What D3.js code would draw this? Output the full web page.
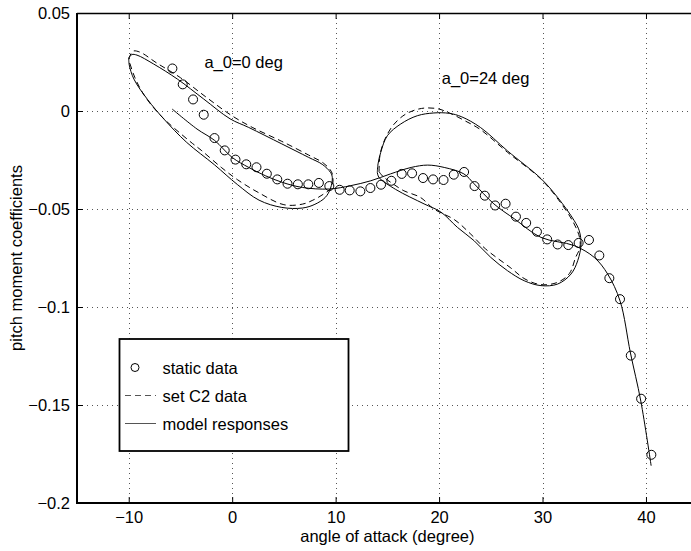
<!DOCTYPE html>
<html>
<head>
<meta charset="utf-8">
<script src="https://cdn.jsdelivr.net/npm/d3@7"></script>
<style>
  html, body { margin: 0; padding: 0; background: #fff; }
  svg { display: block; }
  text { font-family: "Liberation Sans", Arial, Helvetica, sans-serif; fill: #000; }
</style>
</head>
<body>
<svg id="chart" width="691" height="551"></svg>
<script>
// ---------------- data ----------------
const xTicks = [-10, 0, 10, 20, 30, 40];
const yTicks = [0.05, 0, -0.05, -0.1, -0.15, -0.2];
const yTickLabels = ["0.05", "0", "\u22120.05", "\u22120.1", "\u22120.15", "\u22120.2"];
const xTickLabels = ["\u221210", "0", "10", "20", "30", "40"];

// static data (circles)
const staticX = [-5.78,-4.78,-3.78,-2.75,-1.71,-0.72,0.32,1.36,2.35,3.35,4.36,5.35,6.35,7.36,8.38,9.39,10.39,11.36,12.39,13.36,14.39,15.39,16.39,17.39,18.45,19.42,20.43,21.42,22.42,23.43,24.42,25.42,26.43,27.43,28.42,29.46,30.45,31.46,32.49,33.49,34.49,35.49,36.46,37.49,38.53,39.53,40.52];
const staticY = [0.0217,0.0136,0.0059,-0.0019,-0.0138,-0.0201,-0.0248,-0.0272,-0.0287,-0.0320,-0.0349,-0.0371,-0.0374,-0.0374,-0.0367,-0.0383,-0.0402,-0.0405,-0.0410,-0.0393,-0.0376,-0.0356,-0.0321,-0.0318,-0.0342,-0.0349,-0.0352,-0.0325,-0.0311,-0.0383,-0.0432,-0.0482,-0.0473,-0.0539,-0.0571,-0.0616,-0.0655,-0.0681,-0.0684,-0.0673,-0.0658,-0.0737,-0.0853,-0.0960,-0.1248,-0.1468,-0.1754];

// model response along static curve (solid)
const modelStaticX = [-5.8,-3.4,-1.7,0,1.6,3.2,4.84,6.78,9.4,11.45,13.4,15.3,17.3,18.9,20.5,22.4,23.4,25.3,27.3,29.85,33.07,35.0,36.3,37.5,38.5,39.5,40.5];
const modelStaticY = [0.001,-0.0092,-0.015,-0.0237,-0.0288,-0.033,-0.0364,-0.039,-0.0398,-0.0381,-0.0356,-0.0321,-0.0288,-0.0276,-0.0288,-0.0321,-0.0372,-0.0474,-0.0551,-0.0645,-0.0687,-0.0747,-0.0832,-0.097,-0.1235,-0.148,-0.181];

// model response loop, a_0 = 0 deg (solid)
const model0X = [-10.0,-9.7,-9.2,-7.6,-5.3,-2.75,-0.2,1.6,4.8,7.4,8.7,9.5,9.68,9.5,9.0,8.0,6.8,4.8,2.6,0.5,-1.7,-4.4,-6.6,-8.2,-9.5,-9.95,-10.0];
const model0Y = [0.027,0.0288,0.0285,0.024,0.0163,0.0061,-0.004,-0.0084,-0.0168,-0.0237,-0.0272,-0.0313,-0.034,-0.0395,-0.0441,-0.0476,-0.0495,-0.0492,-0.0455,-0.0375,-0.0275,-0.016,-0.0041,0.006,0.0163,0.0235,0.027];

// set C2 data loop, a_0 = 0 deg (dashed)
const c20X = [-10.0,-9.6,-8.9,-7.3,-5.0,-2.5,0,2,4.8,7.4,8.8,9.6,9.75,9.6,8.8,7.8,6.8,5.0,2.5,0.5,-1.0,-3.0,-4.2,-6.9,-8.5,-9.4,-9.9,-10.0];
const c20Y = [0.0265,0.0305,0.030,0.0245,0.017,0.007,-0.0025,-0.0085,-0.0155,-0.0225,-0.0265,-0.031,-0.035,-0.039,-0.0425,-0.0455,-0.0475,-0.0478,-0.0415,-0.035,-0.029,-0.020,-0.015,-0.0024,0.008,0.017,0.0245,0.0265];

// model response loop, a_0 = 24 deg (solid)
const model24X = [14.03,14.1,14.36,15.0,16.3,17.9,19.5,21.0,22.2,24.0,26.6,29.85,31.46,33.07,33.55,33.72,33.4,32.75,31.46,29.85,28.23,26.62,25.0,23.39,21.78,20.16,18.55,15.8,14.19,14.03];
const model24Y = [-0.0313,-0.027,-0.0211,-0.0126,-0.0066,-0.0024,-0.001,-0.0012,-0.003,-0.0084,-0.0203,-0.0345,-0.0441,-0.056,-0.0611,-0.068,-0.0764,-0.0832,-0.0883,-0.0891,-0.0866,-0.0815,-0.0747,-0.0662,-0.0594,-0.0515,-0.0474,-0.040,-0.0339,-0.0313];

// set C2 data loop, a_0 = 24 deg (dashed)
const c224X = [14.2,14.3,14.8,15.6,16.8,18.3,19.8,21.0,22.5,24.0,26.6,29.8,31.5,33.0,33.6,33.6,33.2,32.6,31.46,29.85,28.3,26.94,24.5,23.0,21.5,19.5,18.2,16.6,15.5,14.6,14.2];
const c224Y = [-0.031,-0.022,-0.014,-0.007,-0.0015,0.0013,0.0012,-0.001,-0.005,-0.0095,-0.021,-0.0345,-0.045,-0.057,-0.065,-0.070,-0.0747,-0.0829,-0.0874,-0.0886,-0.0857,-0.0801,-0.0704,-0.0625,-0.0555,-0.050,-0.0441,-0.0407,-0.037,-0.0335,-0.031];

const legendLabels = ["static data", "set C2 data", "model responses"];
const xLabel = "angle of attack (degree)";
const yLabel = "pitch moment coefficients";
const annotations = [
  {text: "a_0=0 deg", x: -2.68, y: 0.0218},
  {text: "a_0=24 deg", x: 20.26, y: 0.0139}
];

// ---------------- drawing ----------------
(function () {
const svg = d3.select("#chart");
const W = 691, H = 551;
const pL = 77, pR = 697.7, pT = 13, pB = 503;
const FONT = 16.5;

svg.append("rect").attr("width", W).attr("height", H).attr("fill", "#fff");

const x = d3.scaleLinear().domain([-15, 45]).range([pL, pR]);
const y = d3.scaleLinear().domain([-0.2, 0.05]).range([pB, pT]);

// grid (dotted)
const grid = svg.append("g").attr("stroke", "#555").attr("stroke-width", 1)
  .attr("stroke-dasharray", "1,4");
grid.selectAll("line.vx").data(xTicks).enter().append("line")
  .attr("x1", d => Math.round(x(d)) + 0.5).attr("x2", d => Math.round(x(d)) + 0.5)
  .attr("y1", pT).attr("y2", pB);
grid.selectAll("line.hy").data(yTicks.filter(d => d !== 0.05 && d !== -0.2)).enter().append("line")
  .attr("x1", pL).attr("x2", W)
  .attr("y1", d => Math.round(y(d)) + 0.5).attr("y2", d => Math.round(y(d)) + 0.5);

// axes
const xAxisB = d3.axisBottom(x).tickValues(xTicks).tickSize(-6).tickPadding(8)
  .tickFormat((d, i) => xTickLabels[i]);
const gxb = svg.append("g").attr("transform", `translate(0,${pB})`).call(xAxisB);
gxb.select(".domain").remove();
gxb.selectAll("line").attr("stroke", "#000").attr("stroke-width", 1);
gxb.selectAll("text").attr("font-size", FONT).attr("fill", "#000")
  .attr("font-family", "Liberation Sans, Arial, sans-serif");

const xAxisT = d3.axisTop(x).tickValues(xTicks).tickSize(-6).tickFormat("");
const gxt = svg.append("g").attr("transform", `translate(0,${pT})`).call(xAxisT);
gxt.select(".domain").remove();
gxt.selectAll("line").attr("stroke", "#000").attr("stroke-width", 1);

const yAxis = d3.axisLeft(y).tickValues(yTicks).tickSize(-6).tickPadding(7)
  .tickFormat((d, i) => yTickLabels[i]);
const gy = svg.append("g").attr("transform", `translate(${pL},0)`).call(yAxis);
gy.select(".domain").remove();
gy.selectAll("line").attr("stroke", "#000").attr("stroke-width", 1);
gy.selectAll("text").attr("font-size", FONT).attr("fill", "#000")
  .attr("font-family", "Liberation Sans, Arial, sans-serif");

// borders
svg.append("line").attr("x1", pL).attr("x2", W).attr("y1", pT + 0.5).attr("y2", pT + 0.5)
  .attr("stroke", "#000").attr("stroke-width", 1.3);
svg.append("line").attr("x1", pL - 1).attr("x2", W).attr("y1", pB).attr("y2", pB)
  .attr("stroke", "#000").attr("stroke-width", 2);
svg.append("line").attr("x1", pL).attr("x2", pL).attr("y1", pT).attr("y2", pB + 1)
  .attr("stroke", "#000").attr("stroke-width", 2);

// curves
const zip = (xs, ys) => xs.map((v, i) => [v, ys[i]]);
const lineCR = d3.line().x(d => x(d[0])).y(d => y(d[1])).curve(d3.curveCatmullRom.alpha(0.5));
const plot = svg.append("g");

function drawCurve(xs, ys, dashed) {
  plot.append("path").attr("d", lineCR(zip(xs, ys)))
    .attr("fill", "none").attr("stroke", "#000").attr("stroke-width", 1)
    .attr("stroke-dasharray", dashed ? "6,4" : null);
}
drawCurve(c20X, c20Y, true);
drawCurve(c224X, c224Y, true);
drawCurve(model0X, model0Y, false);
drawCurve(model24X, model24Y, false);
drawCurve(modelStaticX, modelStaticY, false);

// circles
plot.selectAll("circle.st").data(zip(staticX, staticY)).enter().append("circle")
  .attr("cx", d => x(d[0])).attr("cy", d => y(d[1])).attr("r", 4.5)
  .attr("fill", "none").attr("stroke", "#000").attr("stroke-width", 1);

// annotations
svg.selectAll("text.ann").data(annotations).enter().append("text")
  .attr("x", d => x(d.x)).attr("y", d => y(d.y))
  .attr("font-size", FONT).text(d => d.text);

// legend
const lg = svg.append("g");
lg.append("rect").attr("x", 119.5).attr("y", 339).attr("width", 229).attr("height", 112)
  .attr("fill", "#fff").attr("stroke", "#000").attr("stroke-width", 1.8);
const ly = [367.5, 395.5, 423.5];
lg.append("circle").attr("cx", 135).attr("cy", ly[0]).attr("r", 4).attr("fill", "none")
  .attr("stroke", "#000").attr("stroke-width", 1);
lg.append("line").attr("x1", 125).attr("x2", 156).attr("y1", ly[1]).attr("y2", ly[1])
  .attr("stroke", "#555").attr("stroke-width", 1).attr("stroke-dasharray", "6,4");
lg.append("line").attr("x1", 125).attr("x2", 156).attr("y1", ly[2]).attr("y2", ly[2])
  .attr("stroke", "#555").attr("stroke-width", 1);
lg.selectAll("text.lt").data(legendLabels).enter().append("text")
  .attr("x", 162.5).attr("y", (d, i) => ly[i] + 6).attr("font-size", FONT).text(d => d);

// axis labels
svg.append("text").attr("x", (pL + pR) / 2).attr("y", 542).attr("text-anchor", "middle")
  .attr("font-size", FONT).text(xLabel);
svg.append("text").attr("transform", `translate(21.5,${(pT + pB) / 2}) rotate(-90)`)
  .attr("text-anchor", "middle").attr("font-size", FONT).text(yLabel);
})();
</script>
</body>
</html>
